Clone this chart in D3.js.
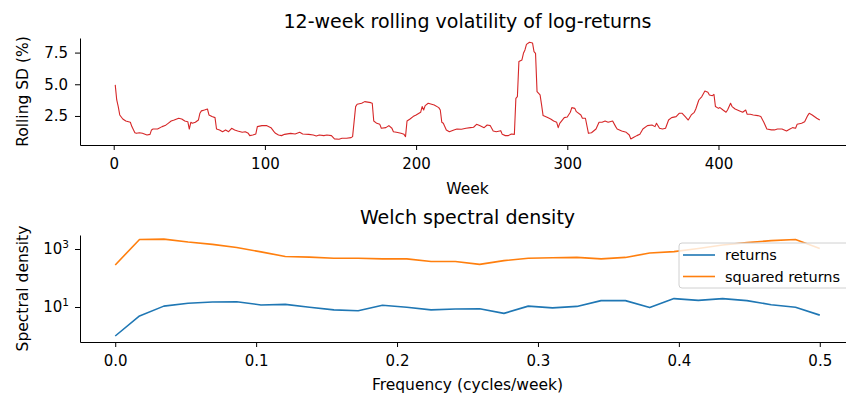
<!DOCTYPE html>
<html lang="en">
<head>
    <meta charset="UTF-8">
    <script src="https://d3js.org/d3.v7.min.js"></script>
    <title>Volatility and Welch spectrum</title>
    <style>
        body { margin: 0; background: #fff; }
        text { font-family: "DejaVu Sans", sans-serif; fill: #000; }
        .domain, .tick line { stroke: #000; stroke-width: 1; }
    </style>
</head>
<body>
    <svg id="chart" width="846" height="394"></svg>
    <script>
        // rolling volatility (week, SD %)
        const volWeeks = [1,2,3,4,6,8,11,12,14,15,17,19,22,24,25,26,29,32,34,36,38,40,43,45,47,49,50,51,52,54,56,57,58,60,62,63,65,67,68,70,72,74,76,78,80,82,85,87,89,90,92,94,95,98,101,104,106,107,109,111,113,117,120,123,125,129,132,134,136,139,141,144,146,149,151,154,157,158,160,161,164,166,170,171,172,174,176,177,180,182,184,185,187,190,192,193,194,196,198,200,203,204,205,206,208,212,215,216,217,218,220,222,225,227,230,233,236,238,240,242,245,247,249,251,253,256,257,259,261,263,265,266,267,268,270,271,272,273,275,277,278,279,280,282,283,284,287,289,291,293,294,295,298,300,302,303,305,306,309,310,312,314,316,319,321,323,325,327,330,332,333,336,339,341,342,344,346,348,350,353,356,358,359,361,363,365,367,369,372,374,376,378,380,382,384,385,387,389,391,393,394,396,397,398,400,401,403,405,406,408,409,411,414,416,418,419,421,423,426,428,430,432,435,437,439,442,445,447,449,451,452,455,457,459,460,462,465,467];
        const volValues = [4.95,3.76,3.24,2.58,2.26,2.10,2.00,1.66,1.18,1.13,1.18,1.13,1.00,1.05,1.40,1.47,1.47,1.66,1.74,1.92,2.10,2.18,2.32,2.26,2.10,2.05,1.47,2.00,1.92,2.00,2.18,2.71,2.90,2.97,3.05,2.58,2.45,2.37,1.47,1.40,1.26,1.40,1.26,1.53,1.40,1.32,1.21,1.26,1.13,0.95,1.00,1.08,1.66,1.74,1.74,1.58,1.26,1.13,1.00,0.95,1.05,1.13,1.08,1.21,1.08,1.05,1.00,0.92,1.00,0.95,1.00,0.95,0.69,0.66,0.74,0.74,0.79,0.87,3.24,3.42,3.50,3.63,3.55,3.50,2.10,1.92,1.84,1.53,1.58,1.74,1.53,1.26,1.21,1.13,1.05,0.87,2.10,2.26,2.45,2.58,2.79,3.24,2.97,3.32,3.50,3.37,3.16,2.97,2.00,1.92,1.40,1.26,1.40,1.47,1.45,1.53,1.58,1.61,1.84,1.74,1.58,1.79,1.74,1.32,1.26,1.34,1.05,0.95,0.95,1.08,1.05,3.89,4.03,6.79,6.92,7.44,7.71,8.15,8.31,8.26,7.58,7.44,4.42,4.16,3.37,2.53,2.37,2.26,2.10,2.00,1.58,1.92,2.37,2.42,2.79,3.16,3.10,2.84,2.58,2.32,2.32,1.13,1.18,1.47,2.00,2.00,2.10,2.00,2.10,1.66,1.47,1.32,1.21,1.00,0.69,0.82,0.95,1.05,1.47,1.74,1.79,1.66,1.92,1.53,1.47,1.53,2.18,2.37,2.45,2.71,2.71,2.45,2.18,2.58,2.79,3.05,3.76,4.03,4.47,4.37,4.16,4.10,4.21,3.24,3.10,3.16,2.97,2.79,2.97,3.50,3.24,3.05,2.90,2.79,2.97,2.63,2.63,2.58,2.53,2.45,2.00,1.47,1.40,1.40,1.47,1.47,1.32,1.45,1.58,1.53,1.84,1.92,2.05,2.53,2.71,2.58,2.32,2.18];

        // Welch spectrum: 30 bins, 0 .. 0.5 cycles/week (log10 of density)
        const freqs = d3.range(30).map(i => i / 58);
        const logReturns = [0.00,0.69,1.03,1.13,1.17,1.18,1.07,1.09,0.99,0.90,0.87,1.06,0.99,0.90,0.93,0.94,0.78,1.03,0.97,1.02,1.22,1.22,0.98,1.29,1.23,1.29,1.22,1.08,0.99,0.72];
        const logSquared = [2.45,3.33,3.34,3.24,3.16,3.05,2.90,2.74,2.72,2.68,2.68,2.66,2.66,2.57,2.57,2.47,2.60,2.68,2.70,2.71,2.66,2.71,2.86,2.91,3.02,3.14,3.22,3.29,3.33,3.02];
        const seriesNames = ["returns", "squared returns"];
        const seriesColors = ["#1f77b4", "#ff7f0e"];

        const svg = d3.select("#chart");
        const left = 80, right = 855;
        const midX = (left + right) / 2;
        const tickFont = 15, labelFont = 15.5, titleFont = 19;

        // ---------- top panel ----------
        const topY0 = 38, topY1 = 145;
        const xWeek = d3.scaleLinear().domain([-22.3, 490.3]).range([left, right]);
        const ySD = d3.scaleLinear().domain([0.21, 8.65]).range([topY1, topY0]);

        const gTop = svg.append("g");
        gTop.append("path")
            .datum(volWeeks.map((w, i) => [w, volValues[i]]))
            .attr("fill", "none")
            .attr("stroke", "#d62728")
            .attr("stroke-width", 1.1)
            .attr("stroke-linejoin", "round")
            .attr("d", d3.line().x(d => xWeek(d[0])).y(d => ySD(d[1])));

        gTop.append("g")
            .attr("transform", "translate(0," + topY1 + ")")
            .call(d3.axisBottom(xWeek).tickValues([0, 100, 200, 300, 400]).tickSize(5).tickPadding(8).tickSizeOuter(0))
            .call(g => g.selectAll("text").attr("font-size", tickFont).attr("font-family", "DejaVu Sans"));
        gTop.append("g")
            .attr("transform", "translate(" + left + ",0)")
            .call(d3.axisLeft(ySD).tickValues([2.5, 5.0, 7.5]).tickFormat(d3.format(".1f")).tickSize(5).tickPadding(7).tickSizeOuter(0))
            .call(g => g.selectAll("text").attr("font-size", tickFont).attr("font-family", "DejaVu Sans"));

        svg.append("text").attr("x", midX).attr("y", 28).attr("text-anchor", "middle")
            .attr("font-size", titleFont).text("12-week rolling volatility of log-returns");
        svg.append("text").attr("x", midX).attr("y", 194).attr("text-anchor", "middle")
            .attr("font-size", labelFont).text("Week");
        svg.append("text").attr("transform", "translate(28,91.5) rotate(-90)").attr("text-anchor", "middle")
            .attr("font-size", labelFont).text("Rolling SD (%)");

        // ---------- bottom panel ----------
        const botY0 = 235, botY1 = 342;
        const xFreq = d3.scaleLinear().domain([-0.025, 0.525]).range([left, right]);
        const yPSD = d3.scaleLog().domain([0.621, 3040]).range([botY1, botY0]);

        const gBot = svg.append("g");
        [logReturns, logSquared].forEach((vals, k) => {
            gBot.append("path")
                .datum(vals.map((v, i) => [freqs[i], Math.pow(10, v)]))
                .attr("fill", "none")
                .attr("stroke", seriesColors[k])
                .attr("stroke-width", 1.6)
                .attr("stroke-linejoin", "round")
                .attr("d", d3.line().x(d => xFreq(d[0])).y(d => yPSD(d[1])));
        });

        gBot.append("g")
            .attr("transform", "translate(0," + botY1 + ")")
            .call(d3.axisBottom(xFreq).tickValues([0, 0.1, 0.2, 0.3, 0.4, 0.5]).tickFormat(d3.format(".1f")).tickSize(5).tickPadding(8).tickSizeOuter(0))
            .call(g => g.selectAll("text").attr("font-size", tickFont).attr("font-family", "DejaVu Sans"));
        const yAx = gBot.append("g")
            .attr("transform", "translate(" + left + ",0)")
            .call(d3.axisLeft(yPSD).tickValues([10, 1000]).tickFormat("").tickSize(5).tickSizeOuter(0));
        yAx.selectAll(".tick").append("text")
            .attr("x", -11).attr("dy", "0.32em").attr("text-anchor", "end")
            .attr("font-size", tickFont).attr("fill", "#000")
            .each(function(d) {
                const t = d3.select(this);
                t.append("tspan").text("10");
                t.append("tspan").attr("dy", "-0.6em").attr("font-size", 10.5).text(Math.round(Math.log10(d)));
            });

        svg.append("text").attr("x", midX).attr("y", 224).attr("text-anchor", "middle")
            .attr("font-size", titleFont).text("Welch spectral density");
        svg.append("text").attr("x", midX).attr("y", 390).attr("text-anchor", "middle")
            .attr("font-size", labelFont).text("Frequency (cycles/week)");
        svg.append("text").attr("transform", "translate(28,288.5) rotate(-90)").attr("text-anchor", "middle")
            .attr("font-size", labelFont).text("Spectral density");

        // legend
        const lg = svg.append("g").attr("transform", "translate(679,243)");
        lg.append("rect").attr("width", 172).attr("height", 45).attr("rx", 3)
            .attr("fill", "#fff").attr("fill-opacity", 0.8).attr("stroke", "#d0d0d0");
        seriesNames.forEach((name, k) => {
            const yy = 12 + k * 21.5;
            lg.append("line").attr("x1", 4).attr("x2", 36).attr("y1", yy).attr("y2", yy)
                .attr("stroke", seriesColors[k]).attr("stroke-width", 1.6);
            lg.append("text").attr("x", 46).attr("y", yy).attr("dy", "0.35em")
                .attr("font-size", 14.5).text(name);
        });
    </script>
</body>
</html>
